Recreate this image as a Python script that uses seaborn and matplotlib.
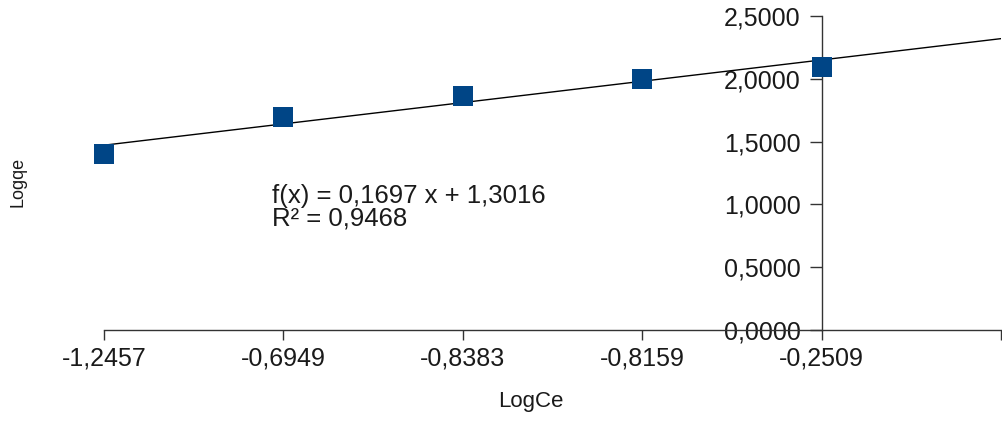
import numpy as np
import pandas as pd
import matplotlib
matplotlib.use("Agg")
import matplotlib.pyplot as plt
from matplotlib.ticker import FuncFormatter, FixedLocator
import seaborn as sns

# Data
log_ce_labels = ["-1,2457", "-0,6949", "-0,8383", "-0,8159", "-0,2509"]
log_qe = [1.400, 1.695, 1.862, 2.000, 2.097]
slope = 0.1697
intercept = 1.3016
r_squared = 0.9468
y_ticks = [0.0, 0.5, 1.0, 1.5, 2.0, 2.5]

sns.set_theme(style="white")
plt.rcParams["font.family"] = ["Liberation Sans", "DejaVu Sans"]

positions = np.arange(1, len(log_ce_labels) + 1)
df = pd.DataFrame({"pos": positions, "LogCe": log_ce_labels, "Logqe": log_qe})

fig = plt.figure(figsize=(10.03, 4.21), dpi=100)
ax = fig.add_axes([104 / 1003, 91 / 421, 897 / 1003, 314 / 421])

# Linear trend line across the category positions
trend = pd.DataFrame({"pos": [1, len(log_ce_labels) + 1]})
trend["fit"] = slope * trend["pos"] + intercept
sns.lineplot(data=trend, x="pos", y="fit", ax=ax, color="black", lw=1.0, zorder=2)

sns.scatterplot(data=df, x="pos", y="Logqe", ax=ax, marker="s", s=14.4 ** 2,
                color="#004586", edgecolor="none", linewidth=0, zorder=3,
                clip_on=False)

ax.set_xlim(1, len(log_ce_labels) + 1)
ax.set_ylim(0, 2.5)

axis_color = "#333333"
for side in ["top", "right"]:
    ax.spines[side].set_visible(False)
ax.spines["left"].set_position(("data", 5))
for side in ["left", "bottom"]:
    ax.spines[side].set_color(axis_color)
    ax.spines[side].set_linewidth(1.0)

ax.xaxis.set_major_locator(FixedLocator(list(positions) + [len(log_ce_labels) + 1]))
ax.set_xticklabels(log_ce_labels + [""])
ax.yaxis.set_major_locator(FixedLocator(y_ticks))
ax.yaxis.set_major_formatter(FuncFormatter(lambda v, p: f"{v:.4f}".replace(".", ",")))

ax.tick_params(axis="x", direction="out", length=7, width=1, color=axis_color,
               pad=5, labelsize=18, labelcolor="#1a1a1a", bottom=True)
ax.tick_params(axis="y", direction="out", length=9, width=1, color=axis_color,
               pad=6, labelsize=18, labelcolor="#1a1a1a", left=True)

ax.set_xlabel("")
ax.set_ylabel("")
ax.grid(False)

eq_text = (f"f(x) = {slope:.4f} x + {intercept:.4f}".replace(".", ",")
           + "\n" + f"R² = {r_squared:.4f}".replace(".", ","))
ax.text(1.936, 1.16, eq_text, ha="left", va="top", fontsize=18.5,
        color="#1a1a1a", linespacing=0.93)

fig.text(18 / 1003, 1 - 182 / 421, "Logqe", rotation=90, ha="center",
         va="center", fontsize=13, color="#1a1a1a")
fig.text(531 / 1003, 1 - 401 / 421, "LogCe", ha="center", va="center",
         fontsize=16, color="#1a1a1a")

fig.savefig("out.png", dpi=100, facecolor="white")
